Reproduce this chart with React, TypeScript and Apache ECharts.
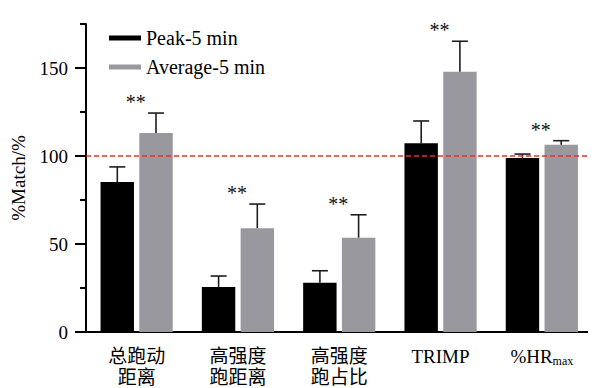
import React, { useEffect, useRef } from "react";
import * as echarts from "echarts";

const categories = ["总跑动\n距离", "高强度\n跑距离", "高强度\n跑占比", "TRIMP", "%HRmax"];
const seriesNames = ["Peak-5 min", "Average-5 min"];
const peakValues = [85.2, 25.6, 28, 107.2, 98.9];
const peakErrTop = [93.8, 31.8, 34.8, 119.9, 101.1];
const avgValues = [113, 59, 53.6, 147.9, 106.4];
const avgErrTop = [124.4, 72.7, 66.6, 165.2, 108.7];
const significance = ["**", "**", "**", "**", "**"];
const yMajorTicks = [0, 50, 100, 150];
const referenceValue = 100;

const SERIF = "'Liberation Serif', 'Times New Roman', 'Noto Sans CJK SC', serif";

export default function App() {
  const ref = useRef<HTMLDivElement>(null);
  useEffect(() => {
    if (!ref.current) return;
    const chart = echarts.init(ref.current, null, { renderer: "svg" });
    const OFF = 0.191;
    const errSeries = (vals: number[], errs: number[], sign: number, name: string) => ({
      type: "custom",
      name: name + "-err",
      z: 4,
      data: vals.map((v, i) => [i, v, errs[i]]),
      renderItem: (params: any, api: any) => {
        const i = api.value(0);
        const v = api.value(1);
        const e = api.value(2);
        const band = api.size([1, 0])[0];
        const p0 = api.coord([i, v]);
        const p1 = api.coord([i, e]);
        const x = p0[0] + sign * OFF * band;
        const cap = 8;
        const st = { stroke: "#1e1e1e", lineWidth: 1.6 };
        return {
          type: "group",
          children: [
            { type: "line", shape: { x1: x, y1: p0[1], x2: x, y2: p1[1] }, style: st },
            { type: "line", shape: { x1: x - cap, y1: p1[1], x2: x + cap, y2: p1[1] }, style: st },
          ],
        };
      },
    });
    chart.setOption({
      animation: false,
      backgroundColor: "#fff",
      grid: { left: 86, right: 3.5, top: 24, bottom: 55 },
      legend: {
        orient: "vertical",
        left: 104,
        top: 23,
        itemWidth: 32,
        itemHeight: 5,
        itemGap: 9,
        icon: "rect",
        data: seriesNames,
        textStyle: { fontFamily: SERIF, fontSize: 20, color: "#000" },
      },
      xAxis: {
        type: "category",
        data: categories,
        axisLine: { lineStyle: { color: "#000", width: 2 } },
        axisTick: { alignWithLabel: true, length: 8, lineStyle: { color: "#000", width: 2 } },
        axisLabel: {
          color: "#000",
          fontFamily: SERIF,
          fontSize: 19,
          lineHeight: 21,
          margin: 14,
          interval: 0,
          formatter: (v: string) => (v === "%HRmax" ? "{n|%HR}{s|max}" : v),
          rich: {
            n: { fontFamily: SERIF, fontSize: 19, color: "#000", lineHeight: 21 },
            s: { fontFamily: SERIF, fontSize: 12, color: "#000", lineHeight: 21, padding: [9, 0, 0, 0] },
          },
        },
      },
      yAxis: [
        {
          type: "value",
          min: 0,
          max: 175,
          interval: 25,
          position: "left",
          name: "%Match/%",
          nameLocation: "middle",
          nameGap: 58,
          nameTextStyle: { fontFamily: SERIF, fontSize: 19, color: "#000" },
          axisLine: { show: true, lineStyle: { color: "#000", width: 2 } },
          axisTick: { show: true, length: 6, lineStyle: { color: "#000", width: 2 } },
          axisLabel: {
            color: "#000",
            fontFamily: SERIF,
            fontSize: 19,
            margin: 18,
            formatter: (v: number) => (yMajorTicks.includes(v) ? String(v) : ""),
          },
          splitLine: { show: false },
        },
        {
          type: "value",
          min: 0,
          max: 175,
          interval: 25,
          position: "left",
          axisLine: { show: false },
          axisTick: { show: true, length: 11, customValues: yMajorTicks, lineStyle: { color: "#000", width: 2 } },
          axisLabel: { show: false },
          splitLine: { show: false },
        },
      ],
      series: [
        {
          type: "bar",
          name: seriesNames[0],
          data: peakValues,
          barWidth: "33%",
          barGap: "16%",
          itemStyle: { color: "#000" },
        },
        {
          type: "bar",
          name: seriesNames[1],
          data: avgValues,
          barWidth: "33%",
          barGap: "16%",
          itemStyle: { color: "#98989e" },
        },
        errSeries(peakValues, peakErrTop, -1, seriesNames[0]),
        errSeries(avgValues, avgErrTop, 1, seriesNames[1]),
        {
          type: "custom",
          name: "sig",
          z: 6,
          data: avgErrTop.map((e, i) => [i, e]),
          renderItem: (params: any, api: any) => {
            const i = api.value(0);
            const p = api.coord([i, api.value(1)]);
            return {
              type: "text",
              x: p[0] - 1,
              y: p[1] - 1,
              style: {
                text: significance[i],
                fontFamily: SERIF,
                fontSize: 20,
                fill: "#111",
                align: "center",
                verticalAlign: "bottom",
              },
            };
          },
          markLine: {
            silent: true,
            symbol: "none",
            label: { show: false },
            lineStyle: { color: "#e8322a", type: [5, 3], width: 1.5 },
            data: [{ yAxis: referenceValue }],
          },
        },
      ],
    });
    return () => chart.dispose();
  }, []);
  return <div ref={ref} style={{ width: 596, height: 388, marginLeft: -8, marginTop: -8 }} />;
}
